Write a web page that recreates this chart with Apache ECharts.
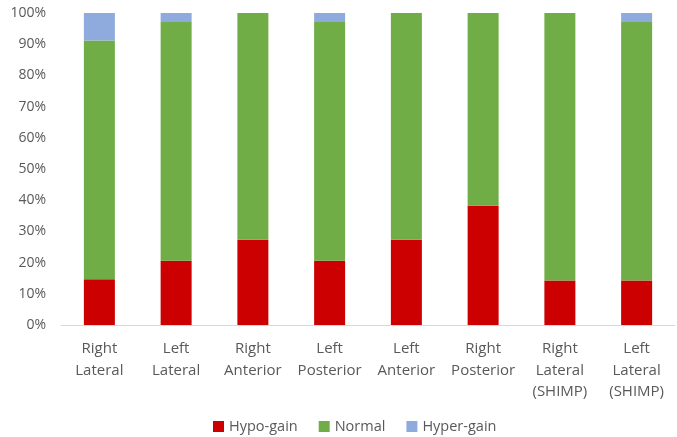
<!DOCTYPE html>
<html>
<head>
<meta charset="utf-8">
<script src="https://cdn.jsdelivr.net/npm/echarts@6/dist/echarts.min.js"></script>
<style>
  html, body { margin: 0; padding: 0; background: #fff; }
  #chart { width: 677px; height: 437px; }
</style>
</head>
<body>
<div id="chart"></div>
<script>
// Share of each gain class per measurement position (percent)
const categories = [
  'Right\nLateral', 'Left\nLateral', 'Right\nAnterior', 'Left\nPosterior',
  'Left\nAnterior', 'Right\nPosterior', 'Right\nLateral\n(SHIMP)', 'Left\nLateral\n(SHIMP)'
];
const hypoGain  = [14.7, 20.6, 27.3, 20.6, 27.3, 38.2, 14.3, 14.3];
const normal    = [76.5, 76.5, 72.7, 76.5, 72.7, 61.8, 85.7, 82.8];
const hyperGain = [8.8, 2.9, 0, 2.9, 0, 0, 0, 2.9];
const yTicks    = [0, 10, 20, 30, 40, 50, 60, 70, 80, 90, 100];

const font = "'Open Sans', 'Liberation Sans', sans-serif";
const textColor = '#595959';

const chart = echarts.init(document.getElementById('chart'), null, { renderer: 'canvas' });

function barSeries(name, data, color) {
  return {
    name: name,
    type: 'bar',
    stack: 'total',
    data: data,
    barWidth: 31,
    itemStyle: { color: color },
    emphasis: { disabled: true }
  };
}

chart.setOption({
  animation: false,
  textStyle: { fontFamily: font },
  grid: { left: 61, right: 2, top: 13, bottom: 112, containLabel: false },
  legend: {
    top: 414,
    left: 208,
    itemWidth: 11,
    itemHeight: 11,
    itemGap: 21,
    icon: 'rect',
    textStyle: { color: textColor, fontSize: 14.5, fontFamily: font },
    data: ['Hypo-gain', 'Normal', 'Hyper-gain']
  },
  xAxis: {
    type: 'category',
    data: categories,
    axisLine: { lineStyle: { color: '#d9d9d9', width: 1 } },
    axisTick: { show: false },
    axisLabel: {
      color: textColor, fontSize: 15, fontFamily: font,
      lineHeight: 21.5, margin: 13, interval: 0
    }
  },
  yAxis: {
    type: 'value',
    min: yTicks[0],
    max: yTicks[yTicks.length - 1],
    interval: 10,
    splitLine: { show: false },
    axisLine: { show: false },
    axisTick: { show: false },
    axisLabel: {
      color: textColor, fontSize: 14, fontFamily: font, margin: 15,
      formatter: v => v + '%'
    }
  },
  series: [
    barSeries('Hypo-gain', hypoGain, '#cc0000'),
    barSeries('Normal', normal, '#70ad47'),
    barSeries('Hyper-gain', hyperGain, '#8faadc')
  ]
});
</script>
</body>
</html>
